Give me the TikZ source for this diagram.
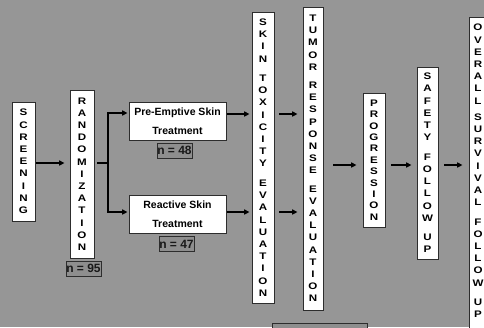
\documentclass[tikz,border=0pt]{standalone}
\usepackage{fontspec}
\setmainfont{Liberation Sans}
\newfontfamily\vfont[FakeStretch=1.22]{Liberation Sans}
\usetikzlibrary{arrows.meta,calc}
\definecolor{bg}{RGB}{150,150,150}
\definecolor{edge}{RGB}{45,45,45}
\definecolor{lblfill}{RGB}{142,142,142}
\begin{document}
\begin{tikzpicture}[x=1pt,y=-1pt,
 vbox/.style={draw=edge, fill=white, line width=0.8pt, inner sep=0pt, align=center, font=\vfont\fontsize{9.5}{12.2}\selectfont\bfseries},
 vtext/.style={inner sep=0pt, align=center, font=\vfont\fontsize{9.5}{12.2}\selectfont\bfseries},
 hbox/.style={draw=edge, fill=white, line width=0.8pt, inner sep=0pt, align=center, font=\fontsize{10.5}{19}\selectfont\bfseries, minimum width=97pt, minimum height=38pt},
 lbl/.style={draw=edge, fill=lblfill, line width=0.8pt, inner sep=0pt, font=\fontsize{12}{13}\selectfont\bfseries, minimum width=35pt, minimum height=15pt, text=black!90},
 arr/.style={line width=1.4pt, -{Triangle[length=5.5pt,width=5pt]}},
 ln/.style={line width=1.4pt}]
\useasboundingbox (0,0) rectangle (484,327);
\clip (0,0) rectangle (484,327);
\fill[bg] (0,0) rectangle (484,327);

% vertical boxes
\node[vbox, minimum width=23pt, minimum height=119pt] (scr) at (23.5,161.5) {S\\C\\R\\E\\E\\N\\I\\N\\G};
\node[vbox, minimum width=24pt, minimum height=168pt] (rand) at (82,174) {R\\A\\N\\D\\O\\M\\I\\Z\\A\\T\\I\\O\\N};
\node[vbox, minimum width=22pt, minimum height=291pt] (skin) at (263,157.5) {S\\K\\I\\N\\[7.3pt]T\\O\\X\\I\\C\\I\\T\\Y\\[7.3pt]E\\V\\A\\L\\U\\A\\T\\I\\O\\N};
\node[vbox, minimum width=20pt, minimum height=303pt] (tumor) at (313,158.5) {T\\U\\M\\O\\R\\[6pt]R\\E\\S\\P\\O\\N\\S\\E\\[6pt]E\\V\\A\\L\\U\\A\\T\\I\\O\\N};
\node[vbox, minimum width=22pt, minimum height=134pt, font=\vfont\fontsize{9.5}{11.4}\selectfont\bfseries] (prog) at (374,160) {P\\R\\O\\G\\R\\E\\S\\S\\I\\O\\N};
\node[vbox, minimum width=21pt, minimum height=192pt] (safe) at (427.5,163) {S\\A\\F\\E\\T\\Y\\[7.3pt]F\\O\\L\\L\\O\\W\\[7.3pt]U\\P};
\node[vbox, minimum width=20pt, minimum height=330pt, anchor=north] (ov) at (479,17) {};
\node[vtext] (ovt) at (478,171) {O\\V\\E\\R\\A\\L\\L\\[4pt]S\\U\\R\\V\\I\\V\\A\\L\\[7.3pt]F\\O\\L\\L\\O\\W\\[7.3pt]U\\P};

% horizontal boxes
\node[hbox] (pre) at (177.5,121) {Pre-Emptive Skin\\Treatment};
\node[hbox] (rea) at (177.5,214) {Reactive Skin\\Treatment};

% labels
\node[lbl] (n95) at (83.5,268.5) {n = 95};
\node[lbl] (n48) at (174.5,150.5) {n = 48};
\node[lbl] (n47) at (176.5,244) {n = 47};
\node[lbl, anchor=north west, minimum width=95pt, minimum height=25pt] (bx) at (272,323) {};

% connectors
\coordinate (br) at (108,163);
\draw[arr] ($(scr.east|-br)+(1,0)$) -- ($(rand.west|-br)+(-5,0)$);
\draw[ln] ($(rand.east|-br)+(3,0)$) -- (br);
\draw[arr] (br) |- ($(pre.west|-0,113)+(-1,0)$);
\draw[arr] (br) |- ($(rea.west|-0,212)+(-1,0)$);
\draw[arr] ($(pre.east|-0,114)+(1,0)$) -- ($(skin.west|-0,114)+(-2,0)$);
\draw[arr] ($(rea.east|-0,212)+(1,0)$) -- ($(skin.west|-0,212)+(-2,0)$);
\draw[arr] ($(skin.east|-0,114)+(5,0)$) -- ($(tumor.west|-0,114)+(-5,0)$);
\draw[arr] ($(skin.east|-0,212)+(5,0)$) -- ($(tumor.west|-0,212)+(-5,0)$);
\draw[arr] ($(tumor.east|-0,165)+(10,0)$) -- ($(prog.west|-0,165)+(-6,0)$);
\draw[arr] ($(prog.east|-0,165)+(6,0)$) -- ($(safe.west|-0,165)+(-5,0)$);
\draw[arr] ($(safe.east|-0,165)+(6,0)$) -- ($(ov.west|-0,165)+(-6,0)$);
\end{tikzpicture}
\end{document}
